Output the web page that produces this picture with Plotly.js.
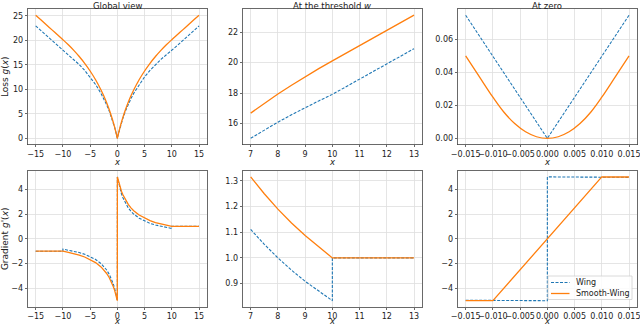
<!DOCTYPE html>
<html>
<head>
<meta charset="utf-8">
<script src="https://cdn.plot.ly/plotly-3.0.1.min.js"></script>
<style>
  html, body { margin: 0; padding: 0; background: #fff; }
  #chart { width: 640px; height: 327px; }
</style>
</head>
<body>
<div id="chart"></div>
<script>
// Global view, loss
const globalX = [-15, -14, -13, -12, -11, -10, -9, -8, -7, -6, -5, -4, -3, -2.5, -2, -1.5, -1, -0.75, -0.5, -0.25, -0.1, 0,
  0.1, 0.25, 0.5, 0.75, 1, 1.5, 2, 2.5, 3, 4, 5, 6, 7, 8, 9, 10, 11, 12, 13, 14, 15];
const globalWingLoss = [22.918, 21.918, 20.918, 19.918, 18.918, 17.918, 17.047, 16.094, 15.041, 13.863, 12.528, 10.986, 9.163, 8.109,
  6.931, 5.596, 4.055, 3.185, 2.231, 1.178, 0.488, 0,
  0.488, 1.178, 2.231, 3.185, 4.055, 5.596, 6.931, 8.109, 9.163, 10.986, 12.528, 13.863, 15.041, 16.094, 17.047, 17.918,
  18.918, 19.918, 20.918, 21.918, 22.918];
const globalSmoothLoss = [25.118, 24.118, 23.118, 22.118, 21.118, 20.118, 19.076, 17.938, 16.688, 15.297, 13.733, 11.944, 9.856, 8.664,
  7.347, 5.875, 4.206, 3.280, 2.279, 1.191, 0.490, 0,
  0.490, 1.191, 2.279, 3.280, 4.206, 5.875, 7.347, 8.664, 9.856, 11.944, 13.733, 15.297, 16.688, 17.938, 19.076, 20.118,
  21.118, 22.118, 23.118, 24.118, 25.118];

// At the threshold w, loss
const threshX = [7, 7.5, 8, 8.5, 9, 9.5, 10, 10.5, 11, 11.5, 12, 12.5, 13];
const threshWingLoss = [15.041, 15.581, 16.094, 16.582, 17.047, 17.492, 17.918, 18.418, 18.918, 19.418, 19.918, 20.418, 20.918];
const threshSmoothLoss = [16.688, 17.329, 17.938, 18.520, 19.076, 19.607, 20.118, 20.618, 21.118, 21.618, 22.118, 22.618, 23.118];

// At zero, loss
const zeroX = [-0.015, -0.0125, -0.01, -0.008, -0.006, -0.004, -0.002, 0, 0.002, 0.004, 0.006, 0.008, 0.01, 0.0125, 0.015];
const zeroWingLoss = [0.0747, 0.0623, 0.0499, 0.0399, 0.0300, 0.0200, 0.0100, 0, 0.0100, 0.0200, 0.0300, 0.0399, 0.0499, 0.0623, 0.0747];
const zeroSmoothLoss = [0.05, 0.0375, 0.025, 0.016, 0.009, 0.004, 0.001, 0, 0.001, 0.004, 0.009, 0.016, 0.025, 0.0375, 0.05];

// Global view, gradient
const gradWingX = [-15, -10, -10, -9, -8, -7, -6, -5, -4, -3, -2.5, -2, -1.5, -1, -0.75, -0.5, -0.25, 0,
  0, 0.25, 0.5, 0.75, 1, 1.5, 2, 2.5, 3, 4, 5, 6, 7, 8, 9, 10, 10, 15];
const gradWing = [-1, -1, -0.833, -0.909, -1.0, -1.111, -1.25, -1.429, -1.667, -2.0, -2.222, -2.5, -2.857, -3.333, -3.636, -4.0, -4.444, -5,
  5, 4.444, 4.0, 3.636, 3.333, 2.857, 2.5, 2.222, 2.0, 1.667, 1.429, 1.25, 1.111, 1.0, 0.909, 0.833, 1, 1];
const gradSmoothX = [-15, -10, -9, -8, -7, -6, -5, -4, -3, -2.5, -2, -1.5, -1, -0.75, -0.5, -0.25, -0.01,
  0.01, 0.25, 0.5, 0.75, 1, 1.5, 2, 2.5, 3, 4, 5, 6, 7, 8, 9, 10, 15];
const gradSmooth = [-1, -1, -1.087, -1.190, -1.316, -1.471, -1.667, -1.923, -2.273, -2.5, -2.778, -3.125, -3.571, -3.846, -4.167, -4.545, -5,
  5, 4.545, 4.167, 3.846, 3.571, 3.125, 2.778, 2.5, 2.273, 1.923, 1.667, 1.471, 1.316, 1.190, 1.087, 1, 1];

// At the threshold w, gradient
const threshGradWingX = [7, 7.5, 8, 8.5, 9, 9.5, 10, 10, 13];
const threshGradWing = [1.111, 1.053, 1.0, 0.952, 0.909, 0.870, 0.833, 1, 1];
const threshGradSmoothX = [7, 7.5, 8, 8.5, 9, 9.5, 10, 13];
const threshGradSmooth = [1.316, 1.25, 1.190, 1.136, 1.087, 1.042, 1, 1];

// At zero, gradient
const zeroGradWingX = [-0.015, 0, 0, 0.015];
const zeroGradWing = [-4.963, -5, 5, 4.963];
const zeroGradSmoothX = [-0.015, -0.01, 0.01, 0.015];
const zeroGradSmooth = [-4.99, -5, 5, 4.99];

const titles = ['Global view', 'At the threshold <i>w</i>', 'At zero'];
const seriesNames = ['Wing', 'Smooth-Wing'];

const BLUE = '#1f77b4';
const ORANGE = '#ff7f0e';
const FONT = 'DejaVu Sans, sans-serif';
const W = 640, H = 327;

const colDomains = [[27.5 / W, 207.2 / W], [242.5 / W, 422.2 / W], [457.5 / W, 637.2 / W]];
const rowDomains = [[1 - 144.5 / H, 1 - 9 / H], [1 - 306.9 / H, 1 - 170.7 / H]];

const px = v => v / W;
const py = v => 1 - v / H;
const minus = v => String(v).replace('-', '\u2212');

function axisBase(extra) {
  return {
    showline: true, mirror: true, linecolor: '#444', linewidth: 0.8,
    ticks: 'outside', ticklen: 2, tickwidth: 0.8, tickcolor: '#444',
    showgrid: true, gridcolor: '#dedede', gridwidth: 0.8, zeroline: false,
    tickfont: { family: FONT, size: 8, color: '#222' },
    tickmode: 'array', tickangle: 0, ticklabeloverflow: 'allow', automargin: false,
    ...extra,
  };
}

const globalTicks = [-15, -10, -5, 0, 5, 10, 15];
const threshTicks = [7, 8, 9, 10, 11, 12, 13];
const zeroTicks = [-0.015, -0.01, -0.005, 0, 0.005, 0.01, 0.015];
const zeroTickText = ['\u22120.015', '\u22120.010', '\u22120.005', '0.000', '0.005', '0.010', '0.015'];

function xAxis(col, anchor) {
  const spec = [
    { range: [-16.5, 16.5], tickvals: globalTicks, ticktext: globalTicks.map(minus) },
    { range: [6.7, 13.3], tickvals: threshTicks, ticktext: threshTicks.map(String) },
    { range: [-0.0165, 0.0165], tickvals: zeroTicks, ticktext: zeroTickText },
  ][col];
  return axisBase({ ...spec, domain: colDomains[col], anchor });
}

function yAxis(row, anchor, spec) {
  return axisBase({ ...spec, domain: rowDomains[row], anchor });
}

const wingLine = { color: BLUE, width: 1.1, dash: '3px,1.5px' };
const smoothLine = { color: ORANGE, width: 1.3 };

function pair(xw, yw, xs, ys, xa, ya, smoothShape) {
  return [
    { x: xw, y: yw, xaxis: xa, yaxis: ya, type: 'scatter', mode: 'lines', name: seriesNames[0],
      line: wingLine, hoverinfo: 'skip' },
    { x: xs, y: ys, xaxis: xa, yaxis: ya, type: 'scatter', mode: 'lines', name: seriesNames[1],
      line: { ...smoothLine, shape: smoothShape || 'linear' }, hoverinfo: 'skip' },
  ];
}

const traces = [
  ...pair(globalX, globalWingLoss, globalX, globalSmoothLoss, 'x', 'y', 'spline'),
  ...pair(threshX, threshWingLoss, threshX, threshSmoothLoss, 'x2', 'y2'),
  ...pair(zeroX, zeroWingLoss, zeroX, zeroSmoothLoss, 'x3', 'y3', 'spline'),
  ...pair(gradWingX, gradWing, gradSmoothX, gradSmooth, 'x4', 'y4'),
  ...pair(threshGradWingX, threshGradWing, threshGradSmoothX, threshGradSmooth, 'x5', 'y5'),
  ...pair(zeroGradWingX, zeroGradWing, zeroGradSmoothX, zeroGradSmooth, 'x6', 'y6'),
];

// Compact matplotlib-style legend in the lower right panel (Plotly's own is too roomy)
const legendBox = { x0: 548, x1: 632, y0: 276, y1: 299.5 };
const legendRows = [282.5, 293.5];
const legendShapes = [
  { type: 'rect', xref: 'paper', yref: 'paper', x0: px(legendBox.x0), x1: px(legendBox.x1),
    y0: py(legendBox.y1), y1: py(legendBox.y0), fillcolor: 'rgba(255,255,255,0.85)',
    line: { color: '#d0d0d0', width: 0.8 }, layer: 'above' },
  ...legendRows.map((y, i) => ({
    type: 'line', xref: 'paper', yref: 'paper', x0: px(551), x1: px(569.5), y0: py(y), y1: py(y),
    line: i === 0 ? wingLine : smoothLine, layer: 'above',
  })),
];
const legendLabels = legendRows.map((y, i) => ({
  text: seriesNames[i], xref: 'paper', yref: 'paper', x: px(575), y: py(y),
  xanchor: 'left', yanchor: 'middle', showarrow: false, borderpad: 0,
  font: { family: FONT, size: 8, color: '#222' },
}));

// x-axis titles placed as annotations so they sit where matplotlib put them
// (top row centred under its tick labels, bottom row pinned to the page bottom)
const xTitleRows = [{ y: py(161.5), anchor: 'middle' }, { y: 0, anchor: 'bottom' }];
const xTitles = [];
xTitleRows.forEach(r => colDomains.forEach(d => xTitles.push({
  text: '<i>x</i>', xref: 'paper', yref: 'paper', x: (d[0] + d[1]) / 2, y: r.y,
  xanchor: 'center', yanchor: r.anchor, showarrow: false, borderpad: 0,
  font: { family: FONT, size: 8.5, color: '#222' },
})));

const yTitleFont = { family: FONT, size: 9, color: '#222' };

const layout = {
  width: W, height: H,
  margin: { l: 0, r: 0, t: 0, b: 0 },
  paper_bgcolor: '#fff', plot_bgcolor: '#fff',
  font: { family: FONT, color: '#222' },
  showlegend: false,
  xaxis: xAxis(0, 'y'),
  xaxis2: xAxis(1, 'y2'),
  xaxis3: xAxis(2, 'y3'),
  xaxis4: xAxis(0, 'y4'),
  xaxis5: xAxis(1, 'y5'),
  xaxis6: xAxis(2, 'y6'),
  yaxis: yAxis(0, 'x', { range: [-1.256, 26.374], tickvals: [0, 5, 10, 15, 20, 25], ticktext: ['0', '5', '10', '15', '20', '25'],
    title: { text: 'Loss <i>g</i>(<i>x</i>)', font: yTitleFont, standoff: 3 } }),
  yaxis2: yAxis(0, 'x2', { range: [14.63, 23.52], tickvals: [16, 18, 20, 22], ticktext: ['16', '18', '20', '22'] }),
  yaxis3: yAxis(0, 'x3', { range: [-0.0037, 0.0785], tickvals: [0, 0.02, 0.04, 0.06], ticktext: ['0.00', '0.02', '0.04', '0.06'] }),
  yaxis4: yAxis(1, 'x4', { range: [-5.5, 5.5], tickvals: [-4, -2, 0, 2, 4], ticktext: ['\u22124', '\u22122', '0', '2', '4'],
    title: { text: "Gradient <i>g</i>'(<i>x</i>)", font: yTitleFont, standoff: 3 } }),
  yaxis5: yAxis(1, 'x5', { range: [0.809, 1.34], tickvals: [0.9, 1.0, 1.1, 1.2, 1.3], ticktext: ['0.9', '1.0', '1.1', '1.2', '1.3'] }),
  yaxis6: yAxis(1, 'x6', { range: [-5.5, 5.5], tickvals: [-4, -2, 0, 2, 4], ticktext: ['\u22124', '\u22122', '0', '2', '4'] }),
  shapes: legendShapes,
  annotations: [
    ...titles.map((t, i) => ({
      text: t, xref: 'paper', yref: 'paper',
      x: (colDomains[i][0] + colDomains[i][1]) / 2, y: 1, xanchor: 'center', yanchor: 'top',
      showarrow: false, font: { family: FONT, size: 8.5, color: '#222' }, borderpad: 0,
    })),
    ...xTitles,
    ...legendLabels,
  ],
};

Plotly.newPlot('chart', traces, layout, { displayModeBar: false, staticPlot: true });
</script>
</body>
</html>
